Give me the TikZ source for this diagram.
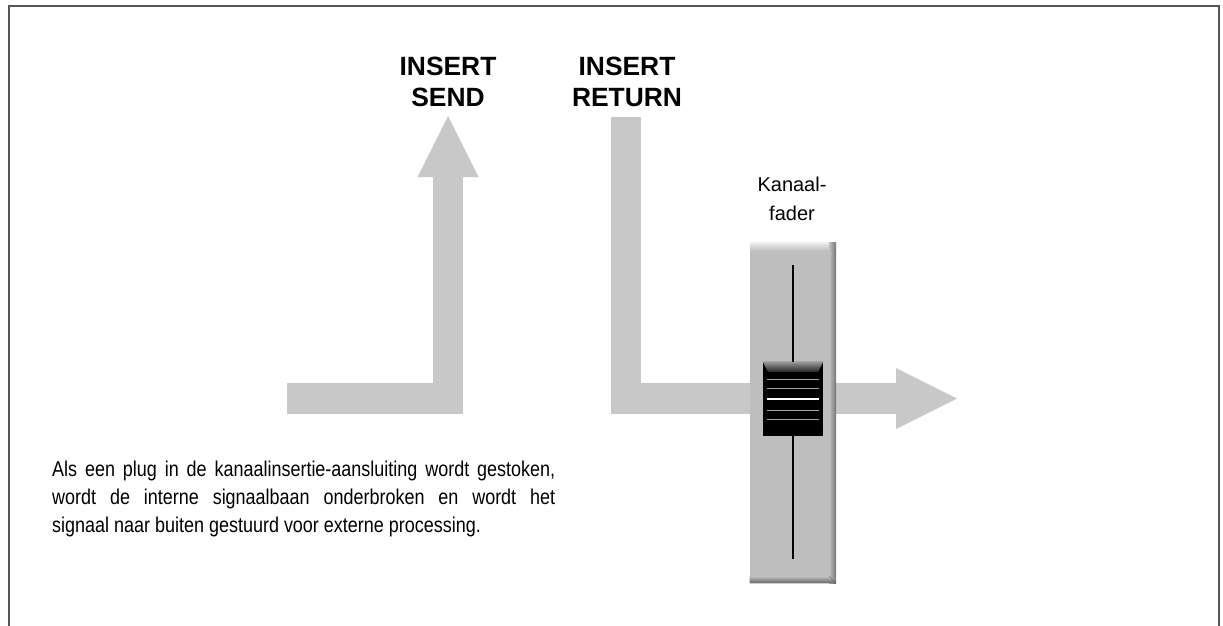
\documentclass[tikz,border=0pt]{standalone}
\usepackage{fontspec}
\setmainfont{Liberation Sans}
\newfontfamily\bodyfont[FakeStretch=0.84,HyphenChar=None]{Liberation Sans}
\usetikzlibrary{arrows.meta,positioning}
\definecolor{flowgray}{RGB}{200,200,200}
\definecolor{fadergray}{RGB}{190,190,190}
\definecolor{framegray}{RGB}{85,85,85}
\tikzset{
  flow/.style      = {draw=flowgray, line width=30.5pt, line join=miter,
                      -{Triangle[length=61pt,width=61pt,line width=0pt]}},
  jack/.style      = {font=\bfseries\fontsize{26.4}{31}\selectfont,
                      align=center, inner sep=0pt, anchor=north},
  caption/.style   = {font=\fontsize{20}{29}\selectfont,
                      align=center, inner sep=0pt, anchor=north},
  note/.style      = {font=\bodyfont\fontsize{21.4}{28}\selectfont,
                      text width=503pt, align=justify,
                      inner sep=0pt, anchor=north west},
  faderbody/.style = {fill=fadergray, minimum width=86pt,
                      minimum height=340pt, inner sep=0pt},
  knob/.style      = {fill=black, minimum width=60pt,
                      minimum height=74pt, inner sep=0pt},
  slit/.style      = {draw=black, line width=2pt},
  groove/.style    = {draw=gray!70, line width=1pt}
}

\begin{document}
\begin{tikzpicture}[x=1pt, y=-1pt]
  \useasboundingbox (0,0) rectangle (1223,625);
  \begin{scope}
    \clip (0,0) rectangle (1223,625);
    \draw[framegray, line width=2pt] (8.5,5.5) rectangle (1218.5,700);
  \end{scope}

  % signal path
  \coordinate (in)       at (287,398.5);
  \coordinate (sendbend) at (448,398.5);
  \coordinate (sendtip)  at (448,116);
  \coordinate (ret)      at (626,117);
  \coordinate (retbend)  at (626,398.5);
  \coordinate (out)      at (957,398.5);
  \draw[flow] (in) -- (sendbend) -- (sendtip);
  \draw[flow] (ret) -- (retbend) -- (out);

  \node[jack] (send)   at (448,57) {INSERT\\SEND};
  \node[jack] (return) at (627,57) {INSERT\\RETURN};

  % fader
  \node[faderbody] (fader) at (793,413) {};
  \fill[top color=white!70!fadergray, bottom color=fadergray]
    (fader.north west) rectangle ([yshift=-8pt]fader.north east);
  \fill[left color=fadergray, right color=black!55]
    ([xshift=-7pt]fader.north east) rectangle (fader.south east);
  \fill[top color=fadergray, bottom color=black!60]
    ([yshift=7pt]fader.south west) -- ([xshift=-7pt,yshift=7pt]fader.south east)
    -- (fader.south east) -- (fader.south west) -- cycle;
  \draw[slit] (793,265) -- (793,559);
  \node[caption] (label) at (792,176.5) {Kanaal-\\fader};

  \node[knob] (cap) at (793,399) {};
  \fill[top color=gray!80, bottom color=black!85]
    (cap.north west) -- (cap.north east) -- ([xshift=-5pt,yshift=-10pt]cap.north east)
    -- ([xshift=5pt,yshift=-10pt]cap.north west) -- cycle;
  \foreach \y in {379,388,410,419}
    \draw[groove] (767,\y) -- (819,\y);
  \draw[white, line width=2pt] (767,399) -- (819,399);

  \node[note] (text) at (52,460.5) {Als een plug in de kanaalinsertie-aansluiting
    wordt gestoken, wordt de interne signaalbaan onderbroken en wordt het\linebreak
    signaal naar buiten gestuurd voor externe processing.};
\end{tikzpicture}
\end{document}
